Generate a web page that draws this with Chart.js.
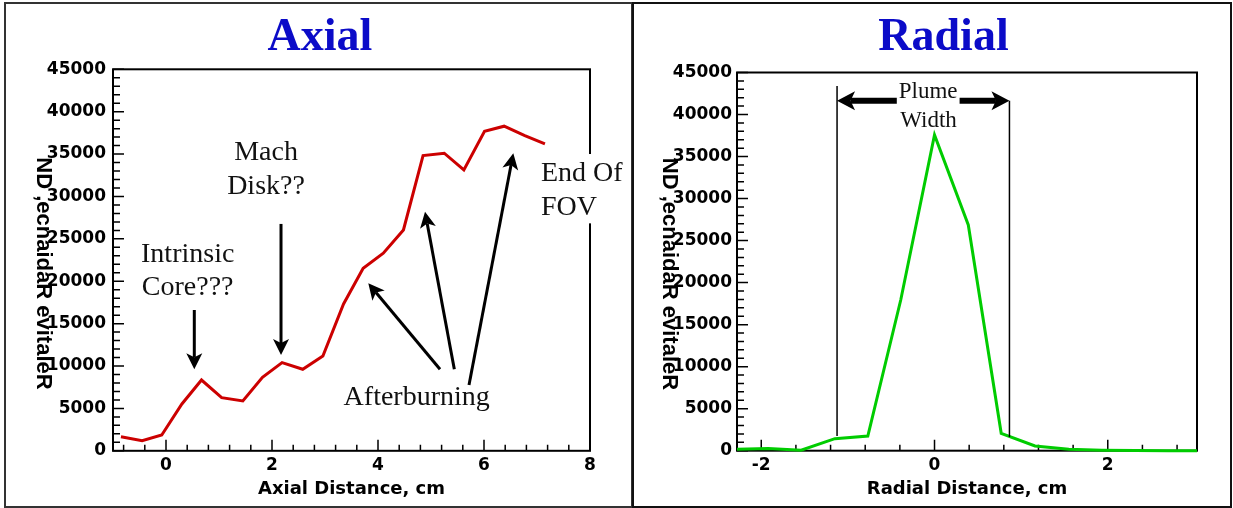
<!DOCTYPE html>
<html>
<head>
<meta charset="utf-8">
<script src="https://cdn.jsdelivr.net/npm/chart.js@4.4.1/dist/chart.umd.min.js"></script>
<style>
  html, body { margin: 0; padding: 0; background: #fff; }
  body { width: 1233px; height: 508px; position: relative; overflow: hidden; }
  .panel { position: absolute; top: 2px; height: 502px; border: 2px solid #111; }
  #panelA { left: 4px; width: 625px; border-color: #333; }
  #panelB { left: 632px; width: 596px; }
  canvas { position: absolute; top: 4px; }
  #axial { left: 6px; }
  #radial { left: 634px; }
</style>
</head>
<body>
<div class="panel" id="panelA"></div>
<div class="panel" id="panelB"></div>
<canvas id="axial" width="625" height="502"></canvas>
<canvas id="radial" width="596" height="502"></canvas>
<script>
// values
const axialX = [-0.85, -0.45, -0.08, 0.30, 0.67, 1.05, 1.45, 1.82, 2.19, 2.58, 2.96,
                3.35, 3.72, 4.10, 4.48, 4.85, 5.25, 5.62, 6.01, 6.38, 6.77, 7.15];
const axialY = [1660, 1190, 1860, 5520, 8350, 6270, 5880, 8670, 10400, 9620, 11190,
                17320, 21540, 23300, 26050, 34820, 35100, 33130, 37700, 38290, 37180, 36200];

const radialX = [-2.31, -1.92, -1.54, -1.15, -0.77, -0.39, 0, 0.39, 0.77, 1.16, 1.55, 1.93, 2.32, 2.70, 3.09];
const radialY = [150, 260, 60, 1430, 1750, 17930, 37570, 26860, 2070, 560, 170, 60, 30, 0, 0];

const axialXTickLabels = [0, 2, 4, 6, 8];
const radialXTickLabels = [-2, 0, 2];
const yTickLabels = [0, 5000, 10000, 15000, 20000, 25000, 30000, 35000, 40000, 45000];

const yAxisText = 'ND ,ecnaidaR evitaleR';

// annotations, in data units
const axialNotes = [
    { t: 'Mach', x: 1.887, y: 34310, align: 'center' },
    { t: 'Disk??', x: 1.887, y: 30300, align: 'center' },
    { t: 'Intrinsic', x: 0.409, y: 22310, align: 'center' },
    { t: 'Core???', x: 0.409, y: 18380, align: 'center' },
    { t: 'Afterburning', x: 4.73, y: 5400, align: 'center' },
    { t: 'End Of', x: 7.075, y: 31870, align: 'left', bg: true },
    { t: 'FOV', x: 7.075, y: 27820, align: 'left', bg: true }
];
const axialArrows = [
    { x1: 0.534, y1: 16610, x2: 0.534, y2: 9620 },
    { x1: 2.17, y1: 26760, x2: 2.17, y2: 11300 },
    { x1: 5.17, y1: 9620, x2: 3.817, y2: 19760 },
    { x1: 5.44, y1: 9620, x2: 4.887, y2: 28210 },
    { x1: 5.717, y1: 7760, x2: 6.553, y2: 35100 }
];
const radialNotes = [
    { t: 'Plume', x: -0.073, y: 41940, align: 'center', bg: true },
    { t: 'Width', x: -0.069, y: 38490, align: 'center' }
];
const radialLines = [
    { x: -1.125, y1: 43400, y2: 1750 },
    { x: 0.865, y1: 41650, y2: 1630 }
];
const radialArrowY = 41650;

function isLabelled(v, list) {
    return list.some((l) => Math.abs(l - v) < 1e-6);
}

function drawArrow(ctx, x1, y1, x2, y2, w, len, half) {
    const ang = Math.atan2(y2 - y1, x2 - x1);
    const c = Math.cos(ang), s = Math.sin(ang);
    const bx = x2 - c * len * 0.75, by = y2 - s * len * 0.75;
    ctx.lineWidth = w;
    ctx.beginPath();
    ctx.moveTo(x1, y1);
    ctx.lineTo(bx, by);
    ctx.stroke();
    ctx.beginPath();
    ctx.moveTo(x2, y2);
    ctx.lineTo(x2 - c * len - s * half, y2 - s * len + c * half);
    ctx.lineTo(bx, by);
    ctx.lineTo(x2 - c * len + s * half, y2 - s * len - c * half);
    ctx.closePath();
    ctx.fill();
}

function panelPlugin(spec) {
    return {
        id: 'panel',
        beforeDatasetsDraw(chart) {
            const { ctx, chartArea: a, scales: { x, y } } = chart;
            ctx.save();
            ctx.strokeStyle = '#000';
            ctx.lineWidth = 1.5;
            ctx.beginPath();
            for (const t of x.ticks) {
                const px = x.getPixelForValue(t.value);
                const len = isLabelled(t.value, spec.xLabels) ? 11 : 6;
                ctx.moveTo(px, a.bottom);
                ctx.lineTo(px, a.bottom - len);
            }
            for (const t of y.ticks) {
                const py = y.getPixelForValue(t.value);
                const len = isLabelled(t.value, yTickLabels) ? 11 : 7;
                ctx.moveTo(a.left, py);
                ctx.lineTo(a.left + len, py);
            }
            ctx.stroke();
            ctx.lineWidth = 2;
            ctx.strokeRect(a.left, a.top, a.width, a.height);
            ctx.restore();
        },
        afterDraw(chart) {
            const { ctx, scales: { x, y } } = chart;
            ctx.save();
            // panel title
            ctx.fillStyle = '#0b0bc8';
            ctx.font = 'bold 46px "Liberation Serif"';
            ctx.textAlign = 'center';
            ctx.textBaseline = 'alphabetic';
            ctx.fillText(spec.title, spec.titleX, 46);

            // y axis label, reads top to bottom
            ctx.save();
            ctx.translate(spec.yLabelX, spec.yLabelY);
            ctx.rotate(Math.PI / 2);
            ctx.fillStyle = '#000';
            ctx.textAlign = 'center';
            ctx.font = 'bold 22px "Liberation Sans"';
            ctx.fillText(yAxisText, 0, 0);
            ctx.restore();

            ctx.strokeStyle = '#000';
            ctx.fillStyle = '#000';
            for (const l of spec.lines || []) {
                const px = x.getPixelForValue(l.x);
                ctx.lineWidth = 1.5;
                ctx.beginPath();
                ctx.moveTo(px, y.getPixelForValue(l.y1));
                ctx.lineTo(px, y.getPixelForValue(l.y2));
                ctx.stroke();
            }
            if (spec.doubleArrow) {
                const d = spec.doubleArrow;
                const py = y.getPixelForValue(d.y);
                const xa = x.getPixelForValue(d.x1), xb = x.getPixelForValue(d.x2);
                const mid = (xa + xb) / 2;
                drawArrow(ctx, mid, py, xa, py, 6, 18, 9.5);
                drawArrow(ctx, mid, py, xb, py, 6, 18, 9.5);
            }
            for (const a of spec.arrows || []) {
                drawArrow(ctx, x.getPixelForValue(a.x1), y.getPixelForValue(a.y1),
                    x.getPixelForValue(a.x2), y.getPixelForValue(a.y2), 3, 16, 8);
            }
            ctx.font = spec.noteFont;
            ctx.textBaseline = 'alphabetic';
            for (const n of spec.notes) {
                const px = x.getPixelForValue(n.x);
                const py = y.getPixelForValue(n.y);
                ctx.textAlign = n.align;
                if (n.bg) {
                    const w = ctx.measureText(n.t).width;
                    const left = n.align === 'center' ? px - w / 2 : px;
                    ctx.fillStyle = '#fff';
                    ctx.fillRect(left - 2, py - spec.noteSize * 0.95, w + 4, spec.noteSize * 1.25);
                }
                ctx.fillStyle = '#111';
                ctx.fillText(n.t, px, py);
            }
            ctx.restore();
        }
    };
}

function tickFont() {
    return { family: 'DejaVu Sans', weight: 'bold', size: 17 };
}

function makeChart(id, cfg) {
    return new Chart(document.getElementById(id), {
        type: 'line',
        data: {
            datasets: [{
                data: cfg.xs.map((v, i) => ({ x: v, y: cfg.ys[i] })),
                borderColor: cfg.color,
                borderWidth: 3,
                pointRadius: 0,
                tension: 0,
                clip: { left: 0, right: 0, top: false, bottom: false }
            }]
        },
        options: {
            responsive: false,
            animation: false,
            events: [],
            layout: { padding: { top: cfg.top, right: cfg.right, bottom: 0, left: 0 } },
            plugins: { legend: { display: false }, tooltip: { enabled: false } },
            scales: {
                x: {
                    type: 'linear',
                    min: cfg.xmin,
                    max: cfg.xmax,
                    afterFit: (s) => { s.height = cfg.xAxisHeight; },
                    grid: { display: false, drawTicks: false },
                    border: { display: false },
                    ticks: {
                        stepSize: 0.4,
                        includeBounds: false,
                        autoSkip: false,
                        maxRotation: 0,
                        minRotation: 0,
                        padding: 5,
                        color: '#000',
                        font: tickFont(),
                        callback: (v) => isLabelled(v, cfg.xLabels) ? String(Math.round(v)) : ''
                    },
                    title: {
                        display: true,
                        text: cfg.xTitle,
                        color: '#000',
                        font: { family: 'DejaVu Sans', weight: 'bold', size: 18 },
                        padding: { top: 0, bottom: 6 }
                    }
                },
                y: {
                    min: 0,
                    max: 45000,
                    afterFit: (s) => { s.width = cfg.yAxisWidth; },
                    grid: { display: false, drawTicks: false },
                    border: { display: false },
                    ticks: {
                        stepSize: 1000,
                        autoSkip: false,
                        padding: cfg.yPad,
                        color: '#000',
                        font: tickFont(),
                        callback: (v) => isLabelled(v, yTickLabels) ? String(v) : ''
                    }
                }
            }
        },
        plugins: [panelPlugin(cfg.panel)]
    });
}

makeChart('axial', {
    xs: axialX, ys: axialY, color: '#cc0000',
    xmin: -1, xmax: 8, xLabels: axialXTickLabels, xTitle: 'Axial Distance, cm',
    top: 65.3, right: 41, xAxisHeight: 55.2, yAxisWidth: 107, yPad: 7,
    panel: {
        title: 'Axial', titleX: 314, yLabelX: 30.7, yLabelY: 269.5,
        xLabels: axialXTickLabels,
        notes: axialNotes, arrows: axialArrows,
        noteFont: '28px "Liberation Serif"', noteSize: 28
    }
});

makeChart('radial', {
    xs: radialX, ys: radialY, color: '#00cc00',
    xmin: -2.28, xmax: 3.03, xLabels: radialXTickLabels, xTitle: 'Radial Distance, cm',
    top: 68.5, right: 33, xAxisHeight: 55.3, yAxisWidth: 103, yPad: 5,
    panel: {
        title: 'Radial', titleX: 309.5, yLabelX: 29.3, yLabelY: 270,
        xLabels: radialXTickLabels,
        notes: radialNotes, lines: radialLines,
        doubleArrow: { x1: -1.125, x2: 0.865, y: radialArrowY },
        noteFont: '23px "Liberation Serif"', noteSize: 23
    }
});
</script>
</body>
</html>
